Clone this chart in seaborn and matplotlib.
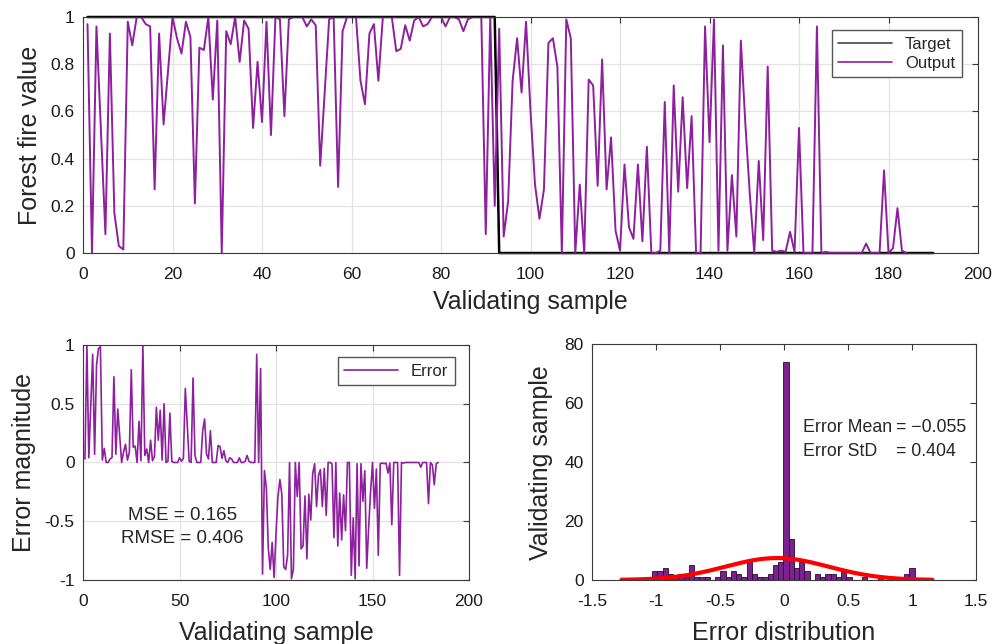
import numpy as np
import pandas as pd
import matplotlib
matplotlib.use("Agg")
import matplotlib.pyplot as plt
from matplotlib.ticker import FuncFormatter
import seaborn as sns

# Values
output = [
    0.97, 0.00, 0.96, 0.52, 0.08, 0.93, 0.17, 0.03, 0.015, 0.98,
    0.88, 1.00, 1.00, 0.97, 0.96, 0.27, 0.93, 0.545, 0.77, 1.00,
    0.91, 0.845, 0.98, 0.915, 0.21, 0.87, 0.86, 1.00, 0.65, 0.985,
    0.00, 0.94, 0.885, 1.00, 0.81, 0.985, 0.95, 0.53, 0.81, 0.555,
    0.98, 0.50, 1.00, 0.99, 0.58, 0.99, 1.00, 1.00, 1.00, 0.96,
    0.99, 0.965, 0.37, 0.68, 0.99, 1.00, 0.28, 0.94, 1.00, 1.00,
    1.00, 0.73, 0.63, 0.93, 0.97, 0.73, 1.00, 1.00, 1.00, 0.855,
    0.865, 0.965, 0.90, 0.985, 1.00, 0.96, 0.97, 1.00, 1.00, 1.00,
    0.96, 1.00, 1.00, 0.99, 0.94, 0.99, 1.00, 1.00, 1.00, 0.08,
    1.00, 0.20, 0.95, 0.07, 0.22, 0.73, 0.91, 0.68, 0.98, 0.60,
    0.29, 0.145, 0.27, 0.89, 0.91, 0.79, 0.00, 0.99, 0.91, 0.00,
    0.29, 0.00, 0.735, 0.71, 0.285, 0.82, 0.27, 0.49, 0.095, 0.01,
    0.375, 0.11, 0.06, 0.375, 0.05, 0.45, 0.00, 0.00, 0.01, 0.64,
    0.00, 0.71, 0.26, 0.66, 0.275, 0.58, 0.00, 0.00, 0.96, 0.47,
    0.99, 0.01, 0.88, 0.01, 0.33, 0.07, 0.90, 0.55, 0.25, 0.00,
    0.39, 0.055, 0.79, 0.01, 0.005, 0.01, 0.005, 0.09, 0.005, 0.53,
    0.00, 0.00, 0.00, 0.96, 0.00, 0.005, 0.00, 0.00, 0.00, 0.00,
    0.00, 0.00, 0.00, 0.00, 0.04, 0.00, 0.00, 0.00, 0.35, 0.00,
    0.02, 0.19, 0.01, 0.00,
]
target = [1] * 92 + [0] * 98

# histogram of the error (counts per bin, 50 bins)
hist_counts = [
    3, 3, 4, 2, 1, 2, 1, 5, 1, 1,
    1, 0, 1, 3, 1, 3, 2, 1, 6, 2,
    1, 1, 2, 5, 6, 74, 14, 4, 6, 3,
    0, 2, 1, 2, 2, 1, 3, 1, 0, 0,
    1, 0, 0, 1, 0, 0, 0, 0, 2, 4,
]
err_mean = -0.055
err_std = 0.404
mse = 0.165
rmse = 0.406

PURPLE = "#8e1f9e"
BAR = "#7b2190"
GRID = "#e3e3e3"
FRAME = "#3a3a3a"

sns.set_style("white")
plt.rcParams["font.family"] = ["Liberation Sans", "DejaVu Sans"]
plt.rcParams["axes.unicode_minus"] = False

fig = plt.figure(figsize=(9.92, 6.44), dpi=100)
ax1 = fig.add_axes([0.0837, 0.6071, 0.9022, 0.3665])
ax2 = fig.add_axes([0.0837, 0.0994, 0.3891, 0.3649])
ax3 = fig.add_axes([0.5968, 0.0994, 0.3871, 0.3657])

fmt = FuncFormatter(lambda v, p: f"{v:g}")


def style_axes(ax, grid=True):
    for s in ax.spines.values():
        s.set_color(FRAME)
        s.set_linewidth(0.8)
    ax.tick_params(direction="in", top=True, right=True, length=4,
                   labelsize=12.5, color=FRAME, labelcolor="#1a1a1a")
    ax.tick_params(axis="x", pad=10)
    ax.tick_params(axis="y", pad=6)
    if grid:
        ax.grid(True, color=GRID, lw=0.9)
        ax.set_axisbelow(True)
    ax.xaxis.set_major_formatter(fmt)
    ax.yaxis.set_major_formatter(fmt)


leg_kw = dict(loc="upper right", fontsize=12, frameon=True, fancybox=False,
              framealpha=1, edgecolor="#555555", handlelength=3.2,
              borderaxespad=0, labelspacing=0.25)

# --- top: target vs output
n_out = len(output)
samples_t = np.arange(1, len(target) + 1)
samples_o = np.arange(1, n_out + 1)
sns.lineplot(x=samples_t, y=target, ax=ax1, color="black", lw=1.8,
             estimator=None, label="Target", clip_on=False)
sns.lineplot(x=samples_o, y=output, ax=ax1, color=PURPLE, lw=1.4,
             estimator=None, label="Output")
ax1.set_xlim(0, 200)
ax1.set_ylim(0, 1)
ax1.set_xticks(np.arange(0, 201, 20))
ax1.set_yticks(np.arange(0, 1.01, 0.2))
style_axes(ax1)
ax1.set_xlabel("Validating sample", fontsize=18, labelpad=6)
ax1.set_ylabel("Forest fire value", fontsize=18, labelpad=6)
leg = ax1.legend(bbox_to_anchor=(0.982, 0.945), **leg_kw)
leg.get_lines()[0].set_color("#444444")
leg.get_lines()[0].set_linewidth(1.2)
leg.get_lines()[1].set_linewidth(1.2)

# --- bottom left: error
error = np.array(target[:n_out]) - np.array(output)
sns.lineplot(x=samples_o, y=error, ax=ax2, color=PURPLE, lw=1.2,
             estimator=None, label="Error")
ax2.set_xlim(0, 200)
ax2.set_ylim(-1, 1)
ax2.set_xticks(np.arange(0, 201, 50))
ax2.set_yticks([-1, -0.5, 0, 0.5, 1])
style_axes(ax2)
ax2.set_xlabel("Validating sample", fontsize=18, labelpad=9)
ax2.set_ylabel("Error magnitude", fontsize=18, labelpad=6)
ax2.legend(bbox_to_anchor=(0.964, 0.949), **leg_kw)
ax2.text(51.6, -0.447, f"MSE = {mse:.3f}", ha="center", va="center", fontsize=13.5)
ax2.text(51.6, -0.643, f"RMSE = {rmse:.3f}", ha="center", va="center", fontsize=13.5)

# --- bottom right: error histogram with normal fit
bin_edges = np.linspace(-1.03, 1.02, 51)
hist_df = pd.DataFrame({
    "center": (bin_edges[:-1] + bin_edges[1:]) / 2,
    "count": hist_counts,
})
sns.histplot(data=hist_df, x="center", weights="count", bins=bin_edges.tolist(), ax=ax3,
             color=BAR, edgecolor="#2b0a33", linewidth=0.6, alpha=1)
bw = bin_edges[1] - bin_edges[0]
x_fit = np.linspace(-1.27, 1.16, 300)
y_fit = n_out * bw * np.exp(-0.5 * ((x_fit - err_mean) / err_std) ** 2) / (err_std * np.sqrt(2 * np.pi))
sns.lineplot(x=x_fit, y=y_fit, ax=ax3, color="red", lw=3, estimator=None)
ax3.set_xlim(-1.5, 1.5)
ax3.set_ylim(0, 80)
ax3.set_xticks(np.arange(-1.5, 1.51, 0.5))
ax3.set_yticks(np.arange(0, 81, 20))
style_axes(ax3, grid=False)
ax3.set_xlabel("Error distribution", fontsize=18, labelpad=9)
ax3.set_ylabel("Validating sample", fontsize=18, labelpad=8)
ax3.text(0.147, 51.7, "Error Mean", ha="left", va="center", fontsize=12.8)
ax3.text(0.875, 51.7, "= \u22120.055", ha="left", va="center", fontsize=12.8)
ax3.text(0.147, 43.6, "Error StD", ha="left", va="center", fontsize=12.8)
ax3.text(0.875, 43.6, f"= {err_std:.3f}", ha="left", va="center", fontsize=12.8)

fig.savefig("out.png", dpi=100)
